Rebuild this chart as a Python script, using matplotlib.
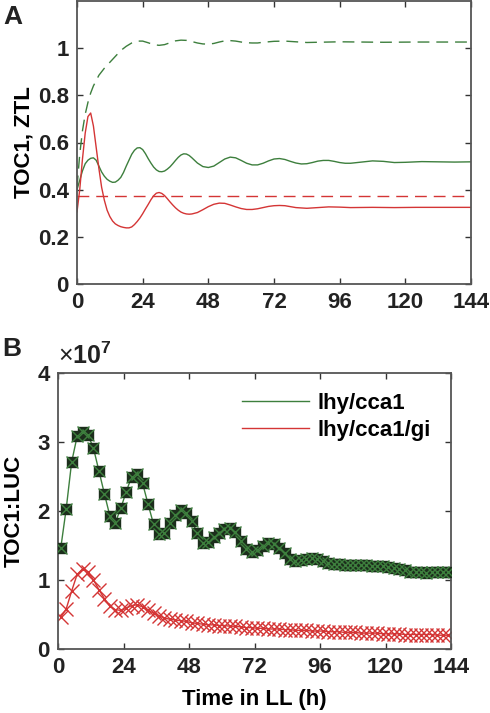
import numpy as np
import matplotlib
matplotlib.use("Agg")
import matplotlib.pyplot as plt
from matplotlib.lines import Line2D

plt.rcParams['font.family'] = ['Liberation Sans', 'DejaVu Sans']
plt.rcParams['mathtext.fontset'] = 'custom'
plt.rcParams['mathtext.rm'] = 'Liberation Sans'
plt.rcParams['mathtext.bf'] = 'Liberation Sans:bold'

green = '#3d7f3d'
red = '#d43535'
spine_col = '#555555'

# ---- panel A: model TOC1 / ZTL ----
tA_gs = [0, 1, 2, 3, 4, 5, 6, 7, 8, 9, 10, 11, 12, 13, 14, 15, 16, 17, 18, 19,
         20, 21, 22, 23, 24, 25, 26, 27, 28, 29, 30, 31, 32, 33, 34, 35, 36, 37,
         38, 39, 40, 41, 42, 44, 46, 48, 50, 52, 54, 56, 58, 60, 62, 64, 66, 68,
         70, 72, 74, 76, 78, 80, 82, 84, 86, 88, 90, 92, 94, 96, 98, 100, 104,
         108, 112, 116, 120, 126, 132, 138, 144]
vA_gs = [0.40, 0.44, 0.48, 0.51, 0.525, 0.533, 0.535, 0.525, 0.50, 0.475, 0.457,
         0.444, 0.436, 0.431, 0.432, 0.44, 0.452, 0.473, 0.50, 0.525, 0.55, 0.567,
         0.577, 0.578, 0.57, 0.553, 0.532, 0.513, 0.496, 0.484, 0.477, 0.476, 0.479,
         0.487, 0.497, 0.51, 0.524, 0.537, 0.547, 0.552, 0.551, 0.545, 0.535, 0.513,
         0.498, 0.494, 0.50, 0.515, 0.53, 0.538, 0.535, 0.524, 0.512, 0.505, 0.505,
         0.512, 0.522, 0.53, 0.532, 0.528, 0.52, 0.513, 0.509, 0.51, 0.515, 0.521,
         0.524, 0.524, 0.52, 0.515, 0.512, 0.512, 0.517, 0.522, 0.52, 0.515, 0.516,
         0.519, 0.518, 0.517, 0.518]

tA_rs = [0, 1, 2, 3, 4, 5, 6, 7, 8, 9, 10, 11, 12, 13, 14, 15, 16, 17, 18, 19,
         20, 21, 22, 23, 24, 25, 26, 27, 28, 29, 30, 31, 32, 33, 34, 35, 36, 37,
         38, 39, 40, 41, 42, 44, 46, 48, 50, 52, 54, 56, 58, 60, 62, 64, 66, 68,
         70, 72, 74, 76, 78, 80, 84, 88, 92, 96, 100, 108, 116, 124, 134, 144]
vA_rs = [0.306, 0.40, 0.53, 0.64, 0.71, 0.725, 0.67, 0.58, 0.49, 0.41, 0.355,
         0.313, 0.286, 0.267, 0.255, 0.248, 0.243, 0.24, 0.238, 0.238, 0.242,
         0.252, 0.265, 0.28, 0.298, 0.318, 0.337, 0.357, 0.374, 0.385, 0.388,
         0.384, 0.375, 0.362, 0.348, 0.335, 0.323, 0.313, 0.305, 0.30, 0.297,
         0.296, 0.297, 0.303, 0.315, 0.328, 0.338, 0.343, 0.342, 0.335, 0.327,
         0.32, 0.316, 0.316, 0.319, 0.324, 0.329, 0.332, 0.333, 0.332, 0.328,
         0.324, 0.321, 0.324, 0.327, 0.326, 0.324, 0.325, 0.324, 0.325, 0.325,
         0.325]

tA_gd = [0, 1, 2, 3, 4, 5, 6, 8, 10, 12, 14, 16, 18, 20, 22, 24, 26, 28, 30, 32,
         34, 36, 38, 40, 42, 44, 46, 48, 50, 52, 54, 56, 58, 60, 62, 64, 66, 68,
         72, 76, 80, 84, 88, 96, 104, 112, 124, 144]
vA_gd = [0.41, 0.55, 0.65, 0.72, 0.77, 0.81, 0.84, 0.885, 0.915, 0.94, 0.965,
         0.99, 1.008, 1.022, 1.03, 1.03, 1.023, 1.015, 1.012, 1.015, 1.023, 1.031,
         1.034, 1.033, 1.028, 1.022, 1.018, 1.017, 1.02, 1.026, 1.031, 1.032, 1.03,
         1.026, 1.023, 1.022, 1.022, 1.025, 1.029, 1.03, 1.027, 1.024, 1.025,
         1.027, 1.026, 1.025, 1.026, 1.026]

tA_rd = [0, 144]
vA_rd = [0.375, 0.375]

# ---- panel B: TOC1:LUC measurements (x 1e7) ----
tB = np.arange(1, 144, 2)
luc_cca1 = [1.46, 2.03, 2.71, 3.08, 3.15, 3.10, 2.91, 2.58, 2.25, 1.93, 1.83, 2.04,
            2.28, 2.50, 2.54, 2.40, 2.10, 1.81, 1.67, 1.68, 1.82, 1.94, 2.02, 1.97,
            1.86, 1.68, 1.54, 1.55, 1.62, 1.68, 1.74, 1.76, 1.70, 1.57, 1.45, 1.40,
            1.44, 1.50, 1.53, 1.52, 1.47, 1.39, 1.30, 1.27, 1.29, 1.31, 1.32, 1.31,
            1.28, 1.25, 1.23, 1.23, 1.22, 1.22, 1.22, 1.22, 1.22, 1.21, 1.21, 1.20,
            1.19, 1.18, 1.16, 1.14, 1.12, 1.11, 1.11, 1.10, 1.11, 1.11, 1.11, 1.11]
luc_gi = [0.46, 0.58, 0.84, 1.08, 1.16, 1.12, 1.00, 0.86, 0.73, 0.62, 0.57, 0.56,
          0.59, 0.63, 0.64, 0.61, 0.56, 0.52, 0.48, 0.45, 0.43, 0.42, 0.41, 0.40,
          0.38, 0.37, 0.36, 0.35, 0.35, 0.34, 0.34, 0.33, 0.33, 0.32, 0.31, 0.31,
          0.30, 0.30, 0.29, 0.29, 0.29, 0.28, 0.28, 0.27, 0.27, 0.27, 0.26, 0.26,
          0.26, 0.25, 0.25, 0.25, 0.24, 0.24, 0.24, 0.23, 0.23, 0.23, 0.23, 0.22,
          0.22, 0.22, 0.22, 0.21, 0.21, 0.21, 0.21, 0.21, 0.21, 0.20, 0.20, 0.20]

xticks = [0, 24, 48, 72, 96, 120, 144]
fs = 16

fig = plt.figure(figsize=(4.9, 7.13), dpi=100)
axA = fig.add_axes([77 / 490, 1 - 284 / 713, 394 / 490, 283 / 713])
axB = fig.add_axes([58 / 490, 1 - 649 / 713, 393 / 490, 276 / 713])


def style(ax):
    for s in ax.spines.values():
        s.set_color(spine_col)
        s.set_linewidth(1.3)
    ax.tick_params(direction='in', top=True, right=True, length=4, width=1,
                   color='#333333', labelsize=fs, pad=6)
    for lab in ax.get_xticklabels() + ax.get_yticklabels():
        lab.set_fontweight('bold')
        lab.set_color('#222222')


dash = (8.5, 5)
axA.plot(tA_gd, vA_gd, color=green, lw=1.0, dashes=dash)
axA.plot(tA_rd, vA_rd, color=red, lw=1.0, dashes=dash)
axA.plot(tA_gs, vA_gs, color=green, lw=1.0)
axA.plot(tA_rs, vA_rs, color=red, lw=1.0)
axA.set_xlim(0, 144)
axA.set_ylim(0, 1.2)
axA.set_xticks(xticks)
axA.set_yticks([0, 0.2, 0.4, 0.6, 0.8, 1.0])
axA.set_yticklabels(['0', '0.2', '0.4', '0.6', '0.8', '1'])
axA.set_ylabel('TOC1, ZTL', fontsize=fs, fontweight='bold', labelpad=2)
style(axA)

axB.plot(tB, luc_gi, color=red, lw=1.0, marker='x', ms=10, mew=1.0)
axB.plot(tB, luc_cca1, color=green, lw=1.0, marker='s', ms=6.5, mfc='#1c2e1c',
         mec='#1c2e1c', zorder=3)
axB.plot(tB, luc_cca1, color=green, lw=0, marker='x', ms=9, mew=1.0, zorder=4)
axB.set_xlim(0, 144)
axB.set_ylim(0, 4)
axB.set_xticks(xticks)
axB.set_yticks([0, 1, 2, 3, 4])
axB.set_ylabel('TOC1:LUC', fontsize=fs, fontweight='bold', labelpad=9)
axB.set_xlabel('Time in LL (h)', fontsize=fs, fontweight='bold', labelpad=8)
style(axB)

handles = [Line2D([], [], color=green, lw=1.0), Line2D([], [], color=red, lw=1.0)]
leg = axB.legend(handles, ['lhy/cca1', 'lhy/cca1/gi'], loc='upper right',
                 bbox_to_anchor=(1.0, 1.0), frameon=False, handlelength=3.0,
                 handletextpad=0.4, labelspacing=0.25,
                 prop={'size': fs, 'weight': 'bold'})

axB.text(0.0, 1.015, r'$\times\mathbf{10^{7}}$', transform=axB.transAxes,
         fontsize=18, ha='left', va='bottom', color='#222222')

fig.text(3 / 490, 1 - 5 / 713, 'A', fontsize=19, fontweight='bold', va='top',
         ha='left', color='#222222')
fig.text(2 / 490, 1 - 337 / 713, 'B', fontsize=19, fontweight='bold', va='top',
         ha='left', color='#222222')

fig.savefig('out.png', dpi=100)
